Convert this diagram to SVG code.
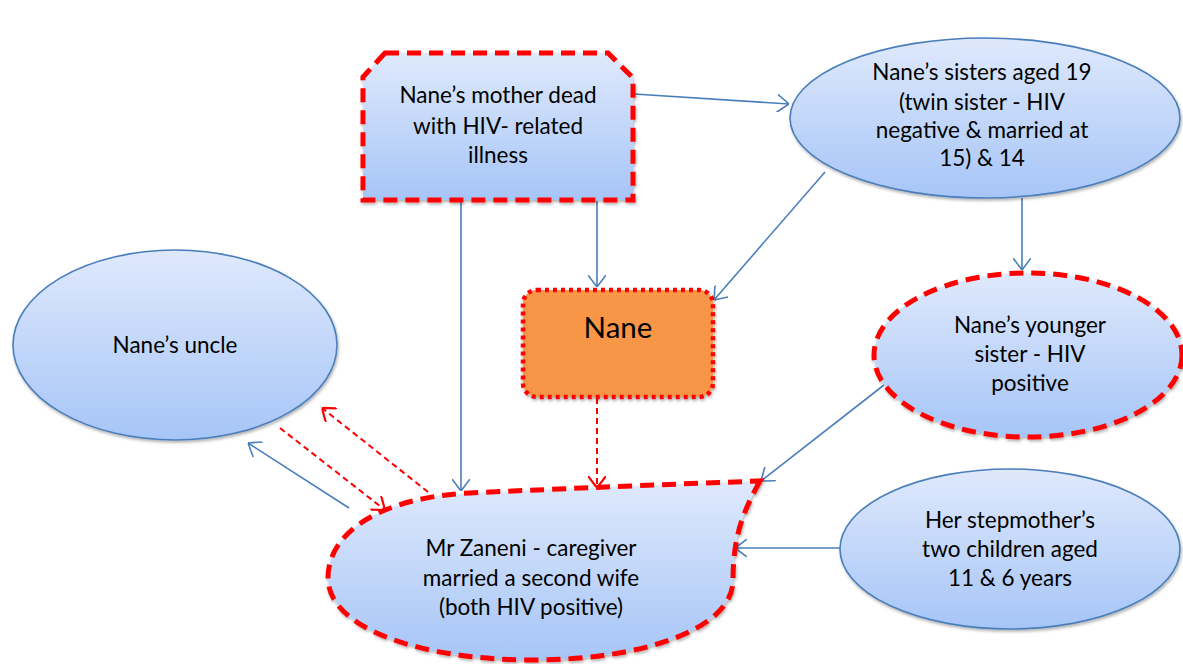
<svg xmlns="http://www.w3.org/2000/svg" width="1183" height="664" viewBox="0 0 1183 664">
<defs>
<linearGradient id="g" x1="0" y1="0" x2="0" y2="1">
<stop offset="0" stop-color="#dfe9fc"/>
<stop offset="1" stop-color="#a6c5f7"/>
</linearGradient>
<filter id="sh" x="-10%" y="-10%" width="120%" height="125%">
<feDropShadow dx="1" dy="2" stdDeviation="1.5" flood-color="#000" flood-opacity="0.3"/>
</filter>
<marker id="ab" viewBox="0 0 12 18" refX="12" refY="9" markerWidth="12" markerHeight="18" markerUnits="userSpaceOnUse" orient="auto">
<path d="M0,0 L12,9 L0,18" fill="none" stroke="#4a7ebb" stroke-width="1.6"/>
</marker>
<marker id="ar" viewBox="0 0 12 18" refX="12" refY="9" markerWidth="12" markerHeight="18" markerUnits="userSpaceOnUse" orient="auto">
<path d="M0,0 L12,9 L0,18" fill="none" stroke="#ff0000" stroke-width="2.2"/>
</marker>
</defs>
<style>
text{font-family:Lato,"Liberation Sans",sans-serif;font-size:22.5px;fill:#000;text-anchor:middle}
.blue{fill:url(#g);stroke:#4a7ebb;stroke-width:1.6;filter:url(#sh)}
.red{fill:url(#g);stroke:#ff0000;stroke-width:5;stroke-dasharray:14 8;filter:url(#sh)}
.cb{stroke:#4a7ebb;stroke-width:1.6;fill:none;marker-end:url(#ab)}
.cr{stroke:#ff0000;stroke-width:2;stroke-dasharray:6 4;fill:none;marker-end:url(#ar)}
</style>
<rect width="1183" height="664" fill="#fff"/>
<g id="connectors">
<line class="cb" x1="634" y1="94" x2="789" y2="104"/>
<line class="cb" x1="597" y1="201" x2="597" y2="287"/>
<line class="cb" x1="461" y1="201" x2="461" y2="491"/>
<line class="cb" x1="825" y1="172" x2="714" y2="300"/>
<line class="cb" x1="1022" y1="198" x2="1022" y2="270"/>
<line class="cb" x1="884" y1="385" x2="761" y2="481"/>
<line class="cb" x1="840" y1="548" x2="735" y2="548"/>
<line class="cb" x1="349" y1="508" x2="248" y2="443"/>
<line class="cr" x1="280" y1="428" x2="385" y2="510"/>
<line class="cr" x1="428" y1="492" x2="322" y2="408"/>
<line class="cr" x1="597" y1="398" x2="597" y2="488"/>
</g>
<g id="mother">
<path class="red" d="M385,53 L608,53 L633,78 L633,200 L363,200 L363,77 Z"/>
<text x="498" y="103">Nane’s mother dead</text>
<text x="498" y="134">with HIV- related</text>
<text x="498" y="163">illness</text>
</g>
<g id="sisters">
<ellipse class="blue" cx="985" cy="118" rx="195" ry="80"/>
<text x="982" y="80">Nane’s sisters aged 19</text>
<text x="982" y="110">(twin sister - HIV</text>
<text x="982" y="138">negative &amp; married at</text>
<text x="982" y="166">15) &amp; 14</text>
</g>
<g id="nane">
<rect x="523" y="290" width="190" height="107" rx="14" fill="#f79646" stroke="#ff0000" stroke-width="4.5" stroke-dasharray="4 4" filter="url(#sh)"/>
<text x="618" y="338" style="font-size:29.5px">Nane</text>
</g>
<g id="younger">
<ellipse class="red" cx="1028" cy="355" rx="154" ry="82"/>
<text x="1030" y="333">Nane’s younger</text>
<text x="1030" y="362">sister - HIV</text>
<text x="1030" y="391">positive</text>
</g>
<g id="uncle">
<ellipse class="blue" cx="175" cy="345" rx="162" ry="95"/>
<text x="175" y="353">Nane’s uncle</text>
</g>
<g id="zaneni">
<path class="red" d="M760,481 C744,510 733,535 733,580 C733,630 640,660 533,660 C420,660 328,628 328,578 C328,530 385,497 470,493 Q620,486 760,481 Z"/>
<text x="531" y="556">Mr Zaneni - caregiver</text>
<text x="531" y="586">married a second wife</text>
<text x="531" y="615">(both HIV positive)</text>
</g>
<g id="stepchildren">
<ellipse class="blue" cx="1010" cy="549" rx="170" ry="80"/>
<text x="1010" y="528">Her stepmother’s</text>
<text x="1010" y="557">two children aged</text>
<text x="1010" y="586">11 &amp; 6 years</text>
</g>
</svg>
